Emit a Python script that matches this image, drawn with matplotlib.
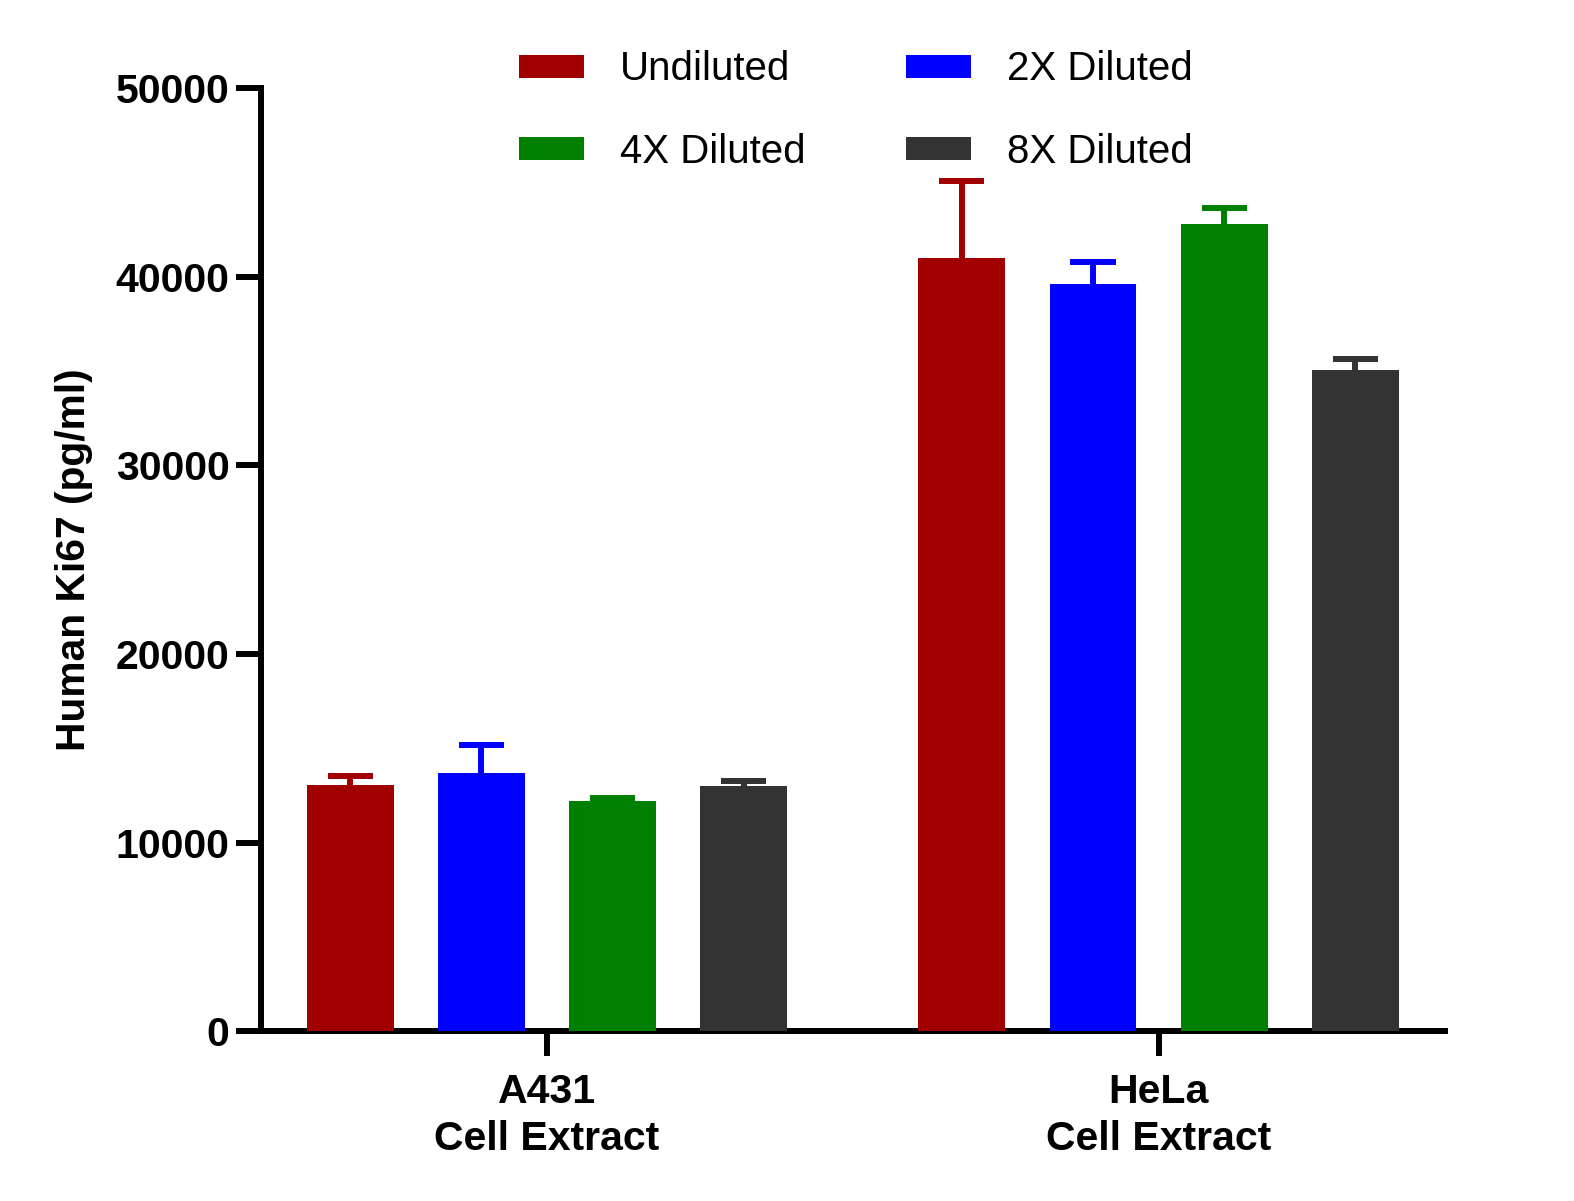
import matplotlib.pyplot as plt
import numpy as np

plt.rcParams['font.family'] = ['Liberation Sans', 'DejaVu Sans']

groups = ["A431\nCell Extract", "HeLa\nCell Extract"]
series = ["Undiluted", "2X Diluted", "4X Diluted", "8X Diluted"]
colors = ["#a00000", "#0000ff", "#008000", "#333333"]

means = {
    "Undiluted": [13050, 41000],
    "2X Diluted": [13700, 39600],
    "4X Diluted": [12200, 42800],
    "8X Diluted": [13000, 35050],
}
errors = {
    "Undiluted": [500, 4100],
    "2X Diluted": [1450, 1200],
    "4X Diluted": [150, 850],
    "8X Diluted": [250, 600],
}

fig = plt.figure(figsize=(15.74, 12.01), dpi=100)
ax = fig.add_axes([0.166, 0.1415, 0.752, 0.785])

x = np.arange(len(groups))
pitch = 0.2145
width = 0.142
cap_half = 0.037
handles = {}
for i, name in enumerate(series):
    pos = x + (i - 1.5) * pitch
    m = np.array(means[name])
    top = m + np.array(errors[name])
    b = ax.bar(pos, m, width, color=colors[i], label=name, zorder=3)
    # upper error bars only
    ax.vlines(pos, m, top, color=colors[i], lw=4.3, zorder=2)
    ax.hlines(top, pos - cap_half, pos + cap_half, color=colors[i], lw=4.3, zorder=2)
    handles[name] = b

ax.set_xlim(-0.467, 1.468)
ax.set_ylim(0, 50000)
ax.set_yticks([0, 10000, 20000, 30000, 40000, 50000])
ax.set_xticks(x)
ax.set_xticklabels(groups)

for s in ["top", "right"]:
    ax.spines[s].set_visible(False)
for s in ["left", "bottom"]:
    ax.spines[s].set_linewidth(4.3)

ax.tick_params(axis="y", length=18, width=4.3, pad=5, labelsize=29.5)
ax.tick_params(axis="x", length=18, width=4.3, pad=12, labelsize=29.5)
for lab in ax.get_xticklabels() + ax.get_yticklabels():
    lab.set_fontweight("bold")
for lab in ax.get_xticklabels():
    lab.set_linespacing(1.3)

ax.set_ylabel("Human Ki67 (pg/ml)", fontsize=29.3, fontweight="bold", labelpad=16)

order = ["Undiluted", "4X Diluted", "2X Diluted", "8X Diluted"]
fig.legend([handles[n] for n in order], order, loc="upper left",
           bbox_to_anchor=(0.33, 0.958), ncol=2, frameon=False, fontsize=29,
           handlelength=1.6, handleheight=0.5, handletextpad=0.9,
           columnspacing=2.5, labelspacing=1.1, borderpad=0, borderaxespad=0)

fig.savefig("out.png", dpi=100)
